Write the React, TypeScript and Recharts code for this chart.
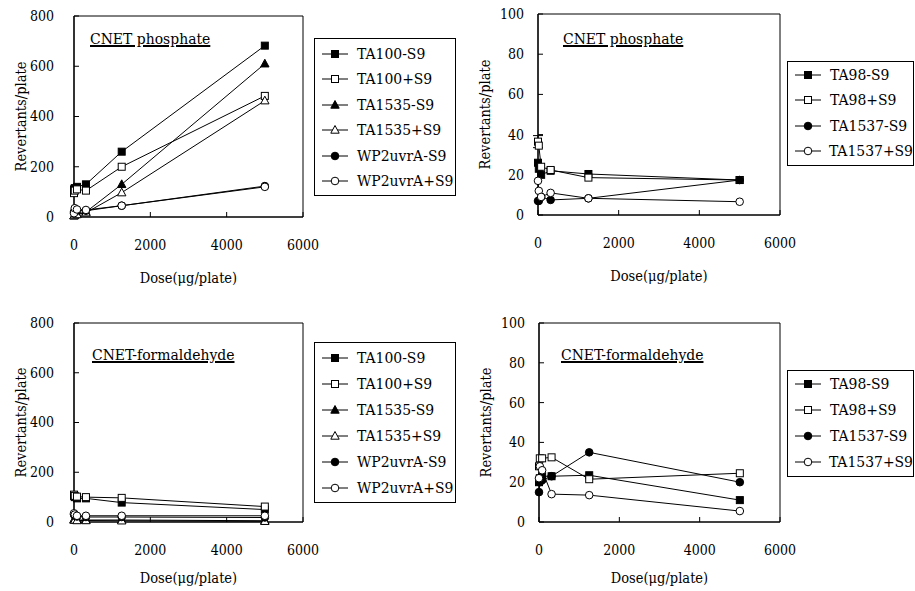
import React from "react";
import {
  LineChart,
  Line,
  XAxis,
  YAxis,
  ReferenceArea,
  ErrorBar,
} from "recharts";

// doses (µg/plate)
const doses = [0, 20, 78, 313, 1250, 5000];
const xTicks = [0, 2000, 4000, 6000];
const leftYTicks = [0, 200, 400, 600, 800];
const rightYTicks = [0, 20, 40, 60, 80, 100];

const leftNames = ["TA100-S9", "TA100+S9", "TA1535-S9", "TA1535+S9", "WP2uvrA-S9", "WP2uvrA+S9"];
const rightNames = ["TA98-S9", "TA98+S9", "TA1537-S9", "TA1537+S9"];

// CNET phosphate, TA100 / TA1535 / WP2uvrA
const phosTA100Minus = [110, 115, 120, 130, 260, 682];
const phosTA100Plus = [95, 105, 110, 105, 200, 482];
const phosTA1535Minus = [5, 8, 12, 20, 130, 610];
const phosTA1535Plus = [5, 8, 10, 17, 97, 463];
const phosWP2Minus = [20, 22, 25, 25, 45, 123];
const phosWP2Plus = [15, 35, 30, 28, 45, 120];

// CNET phosphate, TA98 / TA1537
const phosTA98Minus = [26, 23, 20, 22, 20.4, 17.4];
const phosTA98Plus = [36.5, 34.5, 24, 22.4, 18.6, 17.4];
const phosTA98PlusErr = [3, 0, 0, 0, 0, 0];
const phosTA1537Minus = [7, 7, 9, 7.5, 8.3, 17.4];
const phosTA1537Plus = [17, 12, 9, 11, 8.3, 6.6];

// CNET-formaldehyde, TA100 / TA1535 / WP2uvrA
const formTA100Minus = [105, 100, 95, 95, 78, 50];
const formTA100Plus = [110, 105, 102, 100, 97, 62];
const formTA1535Minus = [10, 10, 8, 8, 8, 5];
const formTA1535Plus = [8, 8, 6, 6, 5, 3];
const formWP2Minus = [30, 25, 22, 20, 20, 18];
const formWP2Plus = [35, 30, 25, 25, 25, 25];

// CNET-formaldehyde, TA98 / TA1537
const formTA98Minus = [20, 22, 23, 23, 23.5, 11];
const formTA98Plus = [28, 32, 32, 32.5, 21.5, 24.5];
const formTA1537Minus = [15, 20, 21, 23, 35, 20];
const formTA1537Plus = [22, 28, 26, 14, 13.5, 5.5];

type Shape = "sqF" | "sqO" | "triF" | "triO" | "cirF" | "cirO";
const leftShapes: Shape[] = ["sqF", "sqO", "triF", "triO", "cirF", "cirO"];
const rightShapes: Shape[] = ["sqF", "sqO", "cirF", "cirO"];

// Times isn't available in the sandbox; condensed DejaVu Serif is the nearest fit
const FONT = "DejaVu Serif Condensed";

function drawShape(shape: Shape, cx: number, cy: number) {
  const fill = shape.endsWith("F") ? "#000" : "#fff";
  if (shape.startsWith("sq")) {
    return <rect x={cx - 3.5} y={cy - 3.5} width={7} height={7} fill={fill} stroke="#000" strokeWidth={1} />;
  }
  if (shape.startsWith("tri")) {
    return (
      <polygon
        points={`${cx},${cy - 4.5} ${cx - 4.2},${cy + 3.2} ${cx + 4.2},${cy + 3.2}`}
        fill={fill}
        stroke="#000"
        strokeWidth={1}
      />
    );
  }
  return <circle cx={cx} cy={cy} r={3.8} fill={fill} stroke="#000" strokeWidth={1} />;
}

const marker = (shape: Shape) => (props: any) => {
  const { cx, cy, index } = props;
  if (cx == null || cy == null) return <g key={`n-${index}`} />;
  return <g key={`${shape}-${index}`}>{drawShape(shape, cx, cy)}</g>;
};

interface PanelProps {
  left: number;
  top: number;
  width: number;
  height: number;
  margin: { top: number; right: number; bottom: number; left: number };
  yMax: number;
  yTicks: number[];
  yTickMargin: number;
  doseOffset: number;
  names: string[];
  shapes: Shape[];
  values: number[][];
  errors?: (number[] | null)[];
}

function Panel(p: PanelProps) {
  const data = doses.map((dose, i) => {
    const row: Record<string, number> = { dose };
    p.names.forEach((n, s) => {
      row[n] = p.values[s][i];
      const err = p.errors?.[s];
      if (err) row[`${n}_err`] = err[i];
    });
    return row;
  });

  return (
    <div style={{ position: "absolute", left: p.left, top: p.top }}>
      <LineChart width={p.width} height={p.height} data={data} margin={p.margin}>
        <ReferenceArea x1={0} x2={6000} y1={0} y2={p.yMax} fill="none" stroke="#000" strokeWidth={1} />
        <XAxis
          dataKey="dose"
          type="number"
          domain={[0, 6000]}
          ticks={xTicks}
          height={65}
          axisLine={{ stroke: "#000", strokeWidth: 1.2 }}
          tickLine={{ stroke: "#000" }}
          tickSize={-5}
          tickMargin={28}
          tick={{ fill: "#000", fontSize: 14, fontFamily: FONT }}
          label={{
            value: "Dose(μg/plate)",
            position: "insideTop",
            offset: p.doseOffset,
            fill: "#000",
            fontSize: 14.5,
            fontFamily: FONT,
          }}
        />
        <YAxis
          type="number"
          domain={[0, p.yMax]}
          ticks={p.yTicks}
          width={60}
          axisLine={{ stroke: "#000", strokeWidth: 1.2 }}
          tickLine={{ stroke: "#000" }}
          tickSize={-5}
          tickMargin={p.yTickMargin}
          tick={{ fill: "#000", fontSize: 14, fontFamily: FONT }}
          label={{
            value: "Revertants/plate",
            angle: -90,
            position: "insideLeft",
            offset: 7,
            fill: "#000",
            fontSize: 14.5,
            fontFamily: FONT,
            style: { textAnchor: "middle" },
          }}
        />
        {p.names.map((n, s) => (
          <Line
            key={n}
            type="linear"
            dataKey={n}
            stroke="#000"
            strokeWidth={1}
            dot={marker(p.shapes[s])}
            activeDot={false}
            isAnimationActive={false}
          >
            {p.errors?.[s] ? (
              <ErrorBar dataKey={`${n}_err`} direction="y" width={5} stroke="#000" strokeWidth={1} isAnimationActive={false} />
            ) : null}
          </Line>
        ))}
      </LineChart>
    </div>
  );
}

function LegendBox({
  left,
  top,
  width,
  padTop,
  row,
  names,
  shapes,
}: {
  left: number;
  top: number;
  width: number;
  padTop: number;
  row: number;
  names: string[];
  shapes: Shape[];
}) {
  return (
    <div
      style={{
        position: "absolute",
        left,
        top,
        width,
        border: "1px solid #000",
        padding: `${padTop}px 0 1px 0`,
        background: "#fff",
        fontFamily: FONT,
        fontSize: 15.5,
      }}
    >
      {names.map((n, i) => (
        <div key={n} style={{ display: "flex", alignItems: "center", height: row }}>
          <svg width={30} height={12} style={{ marginLeft: 5 }}>
            <line x1={2} y1={6} x2={28} y2={6} stroke="#000" strokeWidth={1} />
            {drawShape(shapes[i], 15, 6)}
          </svg>
          <span style={{ marginLeft: 7, whiteSpace: "nowrap" }}>{n}</span>
        </div>
      ))}
    </div>
  );
}

function Title({ left, top, text }: { left: number; top: number; text: string }) {
  return (
    <div
      style={{
        position: "absolute",
        left,
        top,
        fontFamily: FONT,
        fontSize: 15.5,
        lineHeight: "17px",
        textDecoration: "underline",
        textDecorationThickness: "1.5px",
        whiteSpace: "nowrap",
      }}
    >
      {text}
    </div>
  );
}

export default function App() {
  return (
    <div style={{ position: "absolute", left: 0, top: 0, width: 915, height: 591, background: "#fff" }}>
      <Panel
        left={0}
        top={0}
        width={460}
        height={295}
        margin={{ top: 16, right: 157, bottom: 13, left: 14 }}
        yMax={800}
        yTicks={leftYTicks}
        yTickMargin={25}
        doseOffset={56}
        names={leftNames}
        shapes={leftShapes}
        values={[phosTA100Minus, phosTA100Plus, phosTA1535Minus, phosTA1535Plus, phosWP2Minus, phosWP2Plus]}
      />
      <Panel
        left={460}
        top={0}
        width={455}
        height={295}
        margin={{ top: 14, right: 135, bottom: 15, left: 18 }}
        yMax={100}
        yTicks={rightYTicks}
        yTickMargin={19}
        doseOffset={56}
        names={rightNames}
        shapes={rightShapes}
        values={[phosTA98Minus, phosTA98Plus, phosTA1537Minus, phosTA1537Plus]}
        errors={[null, phosTA98PlusErr, null, null]}
      />
      <Panel
        left={0}
        top={300}
        width={460}
        height={291}
        margin={{ top: 23, right: 157, bottom: 4, left: 14 }}
        yMax={800}
        yTicks={leftYTicks}
        yTickMargin={25}
        doseOffset={51}
        names={leftNames}
        shapes={leftShapes}
        values={[formTA100Minus, formTA100Plus, formTA1535Minus, formTA1535Plus, formWP2Minus, formWP2Plus]}
      />
      <Panel
        left={460}
        top={300}
        width={455}
        height={291}
        margin={{ top: 23, right: 135, bottom: 4, left: 19 }}
        yMax={100}
        yTicks={rightYTicks}
        yTickMargin={19}
        doseOffset={51}
        names={rightNames}
        shapes={rightShapes}
        values={[formTA98Minus, formTA98Plus, formTA1537Minus, formTA1537Plus]}
      />

      <Title left={90} top={31} text="CNET phosphate" />
      <Title left={563} top={31} text="CNET phosphate" />
      <Title left={92} top={347} text="CNET-formaldehyde" />
      <Title left={561} top={347} text="CNET-formaldehyde" />

      <LegendBox left={314} top={38} width={140} padTop={2} row={25.5} names={leftNames} shapes={leftShapes} />
      <LegendBox left={787} top={61} width={125} padTop={0} row={25.5} names={rightNames} shapes={rightShapes} />
      <LegendBox left={314} top={342} width={140} padTop={2} row={26} names={leftNames} shapes={leftShapes} />
      <LegendBox left={787} top={370} width={125} padTop={0} row={26} names={rightNames} shapes={rightShapes} />
    </div>
  );
}
